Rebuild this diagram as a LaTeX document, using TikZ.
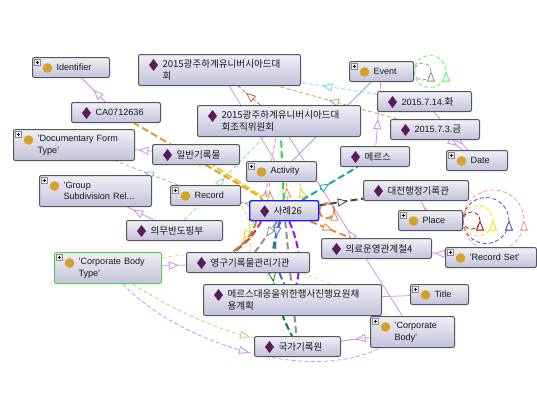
\documentclass[tikz,border=0pt]{standalone}
\usepackage{fontspec}
\setmainfont{Liberation Sans}
\newfontfamily\krfont[Scale=1.05]{Noto Sans CJK KR}
\usetikzlibrary{arrows.meta,decorations.markings}

\definecolor{boxline}{HTML}{55555E}
\definecolor{boxtop}{HTML}{F0F0F6}
\definecolor{boxbottom}{HTML}{C2C2DC}
\definecolor{gem}{HTML}{5A1A5E}
\definecolor{ball}{HTML}{D4A12A}
\definecolor{lilac}{HTML}{CC8CEC}
\definecolor{sky}{HTML}{84B0DC}
\definecolor{steel}{HTML}{84A8DC}
\definecolor{mint}{HTML}{80DCA4}
\definecolor{aqua}{HTML}{5CDCFA}
\definecolor{tan}{HTML}{C49C50}
\definecolor{rust}{HTML}{B06844}
\definecolor{amber}{HTML}{F59A1C}
\definecolor{sun}{HTML}{F5C81E}
\definecolor{carrot}{HTML}{E08A48}
\definecolor{teal2}{HTML}{12A8A8}
\definecolor{coal}{HTML}{444444}
\definecolor{leaf}{HTML}{008A20}
\definecolor{lime2}{HTML}{22DD44}
\definecolor{rose}{HTML}{FF5FA0}
\definecolor{crimson}{HTML}{F0186A}
\definecolor{olive2}{HTML}{9A9A28}
\definecolor{royal}{HTML}{4466EE}
\definecolor{violet2}{HTML}{9A10DC}
\definecolor{ash}{HTML}{909090}
\definecolor{khaki2}{HTML}{C8C47C}
\definecolor{paleyel}{HTML}{E4DA8C}

\pgfdeclarelayer{edges}
\pgfsetlayers{edges,main}

\tikzset{
  opentip/.tip={Triangle[fill=white,length=10pt,width=8pt,line width=.8pt]},
  tipat/.style={postaction={decorate,decoration={markings,mark=at position #1 with {\arrow{opentip}}}}},
  boxbase/.style={draw=boxline, line width=1pt, rounded corners=2pt, anchor=north west,
    top color=boxtop, bottom color=boxbottom, inner xsep=3pt, inner ysep=3pt, minimum height=20pt,
    align=left, font=\fontsize{9.1}{11.7}\selectfont, text=black!90,
    execute at begin node={\leftskip=21pt\relax}},
  indiv/.style={boxbase, text width=#1,
    path picture={\fill[gem, sharp corners] ([shift={(15pt,-10.5pt)}]path picture bounding box.north west)
      +(-4.5pt,0) -- +(0,6pt) -- +(4.5pt,0) -- +(0,-6pt) -- cycle;}},
  concept/.style={boxbase, text width=#1,
    path picture={\fill[ball, sharp corners] ([shift={(15pt,-10.5pt)}]path picture bounding box.north west) circle (4.8pt);
      \draw[boxline!70, fill=boxtop, line width=.4pt, sharp corners] ([shift={(1.5pt,-1.5pt)}]path picture bounding box.north west) rectangle +(6.5pt,-6.5pt);
      \draw[black, line width=.6pt, sharp corners] ([shift={(4.75pt,-3pt)}]path picture bounding box.north west) -- +(0,-3.5pt)
        ([shift={(3pt,-4.75pt)}]path picture bounding box.north west) -- +(3.5pt,0);}},
  tall/.style={minimum height=31pt},
  thinrel/.style={draw=#1, line width=.75pt},
  dashrel/.style={draw=#1, line width=.75pt, dash pattern=on 4pt off 2.5pt},
  heavyrel/.style={draw=#1, line width=2pt, dash pattern=on 7pt off 3.5pt},
  selfrel/.style={draw=#1, line width=.75pt, dash pattern=on 4pt off 2.5pt},
}

\begin{document}
\begin{tikzpicture}[x=1pt,y=-1pt]
  \useasboundingbox (0,0) rectangle (537,399);

  % Classes and individuals, upper part
  \node[concept=71pt] (identifier) at (32,57) {Identifier};
  \node[indiv=156pt, tall] (daehoe) at (138,54) {\krfont 2015광주하계유니버시아드대\\회};
  \node[indiv=83pt] (ca) at (71,102) {CA0712636};
  \node[indiv=157pt, tall] (wiwon) at (197,105) {\krfont 2015광주하계유니버시아드대\\회조직위원회};
  \node[concept=115pt, tall] (docform) at (13,129) {'Documentary Form\\Type'};
  \node[indiv=81pt] (ilban) at (152,144) {\krfont 일반기록물};
  \node[concept=64pt] (activity) at (246,161) {Activity};
  \node[indiv=63pt] (meres) at (340,146) {\krfont 메르스};
  \node[concept=58pt] (event) at (349,61) {Event};
  \node[indiv=88pt] (dateA) at (377,91) {2015.7.14.{\krfont 화}};
  \node[indiv=83pt] (dateB) at (390,119) {2015.7.3.{\krfont 금}};
  \node[concept=55pt] (date) at (446,150) {Date};
  \node[concept=106pt, tall] (groupsub) at (39,175) {'Group\\Subdivision Rel...};
  \node[concept=64pt] (record) at (170,185) {Record};

  % Selected individual
  \node[indiv=63pt, draw=blue!90, line width=1.4pt] (case) at (249,200) {\krfont 사례26};

  % Classes and individuals, lower part
  \node[indiv=99pt] (daejeon) at (363,180) {\krfont 대전행정기록관};
  \node[concept=58pt] (place) at (398,210) {Place};
  \node[indiv=90pt] (doping) at (126,220) {\krfont 의무반도핑부};
  \node[indiv=104pt] (uiryo) at (321,238) {\krfont 의료운영관계철4};
  \node[concept=85pt] (recset) at (445,247) {'Record Set'};
  \node[concept=101pt, tall, draw=green!75!black!70, line width=1pt] (corptype) at (54,252) {'Corporate Body\\Type'};
  \node[indiv=117pt] (young) at (186,252) {\krfont 영구기록물관리기관};
  \node[indiv=172pt, tall] (plan) at (203,284) {\krfont 메르스대응을위한행사진행요원채\\용계획};
  \node[concept=52pt] (title) at (410,284) {Title};
  \node[concept=78pt, tall] (corp) at (370,316) {'Corporate\\Body'};
  \node[indiv=80pt] (national) at (254,336) {\krfont 국가기록원};

  \begin{pgfonlayer}{edges}
    % Thin solid links
    \draw[thinrel=lilac, tipat=.5] (ca) -- (identifier);
    \draw[thinrel=lilac, tipat=.8] (ilban) -- (docform);
    \draw[thinrel=lilac, tipat=.78] (doping) -- (groupsub);
    \draw[thinrel=lilac] (daehoe) -- (activity);
    \draw[thinrel=lilac, tipat=.48] (corp) -- (wiwon);
    \draw[thinrel=lilac, tipat=.42] (meres) -- (event);
    \draw[thinrel=lilac, tipat=.85] (dateA) -- (date);
    \draw[thinrel=lilac, tipat=.6] (dateB) -- (date);
    \draw[thinrel=lilac, tipat=.4] (place) -- (daejeon);
    \draw[thinrel=lilac, tipat=.8] (recset) -- (uiryo);
    \draw[thinrel=lilac] (title) -- (plan);
    \draw[thinrel=lilac, tipat=.5] (corp) -- (national);
    \draw[thinrel=lilac, tipat=.7] (corptype) -- (young);
    \draw[thinrel=lilac, tipat=.6] (case) -- (record);
    \draw[thinrel=steel] (event) -- (activity);

    % Thin dashed links
    \draw[dashrel=sky, tipat=.55] (record) -- (docform);
    \draw[dashrel=mint, tipat=.51] (doping) -- (wiwon);
    \draw[dashrel=aqua, tipat=.72] (dateA) -- (daehoe);
    \draw[dashrel=tan, tipat=.57] (dateB) -- (daehoe);
    \draw[dashrel=rust, tipat=.65] (wiwon) -- (daehoe);
    \draw[dashrel=rose, tipat=.15] ([xshift=-20pt]case.north) -- ([xshift=-3pt]wiwon.south);
    \draw[dashrel=carrot, tipat=.5] ([xshift=-14pt]case.north) -- ([xshift=-12pt]activity.south);
    \draw[dashrel=carrot, tipat=.7] ([xshift=3pt]case.north) -- ([xshift=5pt]activity.south);
    \draw[dashrel=sun, tipat=.7] ([xshift=19pt]case.north) -- ([xshift=18pt]activity.south);
    \draw[dashrel=sun] (record.south east) .. controls (250,215) and (252,235) .. (young);
    \draw[dashrel=sun, tipat=.6] ([xshift=-30pt]case.south) -- ([xshift=-12pt]young.north);
    \draw[dashrel=paleyel] (corptype) .. controls (230,245) and (320,270) .. (corp);
    \draw[dashrel=khaki2, tipat=.97] (corptype) .. controls (165,305) and (215,330) .. (national);
    \draw[dashrel=lilac, tipat=.52] (corptype) .. controls (175,340) and (305,385) .. (corp);
    \draw[dashrel=khaki2] (national) -- (corp);

    % Heavy links around the selected individual
    \draw[heavyrel=amber, tipat=.55] (case) -- (ca);
    \draw[heavyrel=sun, tipat=.15] (case) -- (ilban);
    \draw[heavyrel=lime2] (case) -- ([xshift=2pt]wiwon.south);
    \draw[heavyrel=teal2, tipat=.5] (case) -- (meres);
    \draw[heavyrel=coal, tipat=.65] (case) -- (daejeon);
    \draw[heavyrel=carrot, tipat=.55] (case) -- (uiryo);
    \draw[heavyrel=crimson] ([xshift=-23pt]case.south) .. controls (255,232) and (250,240) .. ([xshift=-14pt]young.north);
    \draw[heavyrel=olive2] ([xshift=-28pt]case.south) .. controls (252,235) and (247,242) .. ([xshift=-16pt]young.north);
    \draw[heavyrel=ash, tipat=.5] ([xshift=-7pt]case.south) -- ([xshift=7pt]young.north);
    \draw[heavyrel=leaf, tipat=.52] (case) .. controls (268,255) and (268,290) .. (national);
    \draw[heavyrel=royal, tipat=.25] (case) .. controls (271,245) and (276,268) .. (plan);
    \draw[heavyrel=ash, tipat=.47] (case) -- (national);
    \draw[heavyrel=violet2] ([xshift=5pt]case.south) .. controls (302,250) and (300,270) .. ([xshift=4pt]plan.north);

    % Self links
    \draw[selfrel=ash, tipat=.5] (event.east) arc[start angle=180, end angle=540, radius=8.5pt];
    \draw[selfrel=green!70!white, tipat=.5] (event.east) arc[start angle=180, end angle=540, radius=16pt];
    \draw[selfrel=red!70!black, tipat=.5] (place.east) arc[start angle=180, end angle=540, radius=8.5pt];
    \draw[selfrel=yellow!85!olive, tipat=.5] (place.east) arc[start angle=180, end angle=540, radius=15pt];
    \draw[selfrel=blue!50!gray, tipat=.5] (place.east) arc[start angle=180, end angle=540, radius=23pt];
    \draw[selfrel=red!45!white, tipat=.5] (place.east) arc[start angle=180, end angle=540, radius=30.5pt];
    \draw[heavyrel=carrot, tipat=.5] (case.east) arc[start angle=180, end angle=540, radius=7.5pt];
  \end{pgfonlayer}
\end{tikzpicture}
\end{document}
